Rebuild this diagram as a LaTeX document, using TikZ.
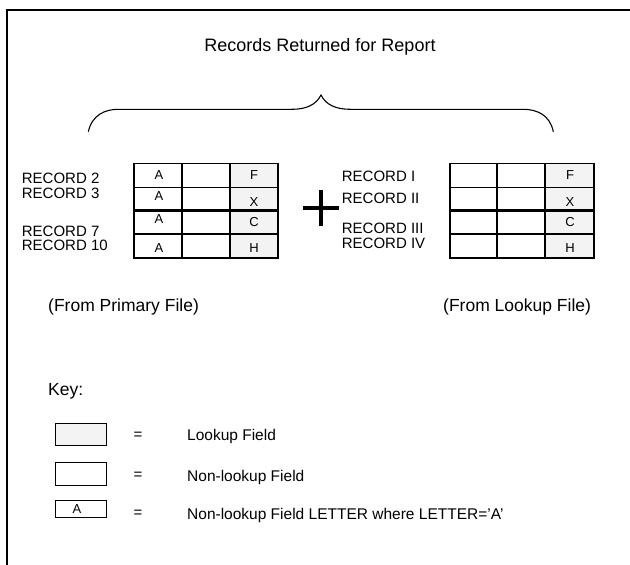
\documentclass[tikz,border=0pt]{standalone}
\usepackage{fontspec}
\setmainfont{Liberation Sans}
\definecolor{lookfill}{HTML}{F3F3F3}
\begin{document}
\begin{tikzpicture}[x=1pt,y=-1pt,
  rec/.style={anchor=base west, inner sep=0pt, font=\fontsize{15}{15}\selectfont},
  cell/.style={inner sep=0pt, font=\fontsize{13}{13}\selectfont},
  big/.style={anchor=base west, inner sep=0pt, font=\fontsize{17.5}{17.5}\selectfont},
  keytxt/.style={anchor=base west, inner sep=0pt, font=\fontsize{15.5}{15.5}\selectfont},
  tline/.style={draw=black, line width=1.1pt},
  thick/.style={draw=black, line width=2.6pt}]
\useasboundingbox (0,0) rectangle (630,565);
% frame
\draw[line width=2pt] (7,565) -- (7,10) -- (630,10);
% title
\node[anchor=base, inner sep=0pt, font=\fontsize{18}{18}\selectfont] (title) at (320,51.5) {Records Returned for Report};
% brace
\draw[line width=1.1pt] (88.3,131.7) .. controls (92,115) and (105,109.3) .. (118.3,109.3) -- (291.7,109.3)
  .. controls (306,109.3) and (316,105) .. (321,95)
  .. controls (326,105) and (336,109.3) .. (350.3,109.3) -- (523.3,109.3)
  .. controls (537,109.3) and (550,115) .. (553.3,131.7);
% primary table
\fill[lookfill] (230,163.5) rectangle (278,258);
\draw[tline] (134,163.5) rectangle (278,258);
\draw[tline] (182,163.5) -- (182,258) (230,163.5) -- (230,258);
\draw[tline] (134,187.5) -- (278,187.5) (134,234) -- (278,234);
\draw[thick] (134,210.5) -- (278,210.5);
% lookup table
\fill[lookfill] (545,163.5) rectangle (594,258);
\draw[tline] (450,163.5) rectangle (594,258);
\draw[tline] (497,163.5) -- (497,258) (545,163.5) -- (545,258);
\draw[tline] (450,187.5) -- (594,187.5) (450,234) -- (594,234);
\draw[thick] (450,210.5) -- (594,210.5);
% record labels left
\node[rec] (r2) at (21.7,183.4) {RECORD 2};
\node[rec] (r3) at (21.7,198) {RECORD 3};
\node[rec] (r7) at (21.7,236.5) {RECORD 7};
\node[rec] (r10) at (21.7,250.5) {RECORD 10};
% record labels right
\node[rec] (rI) at (341.7,181) {RECORD I};
\node[rec] (rII) at (341.7,203) {RECORD II};
\node[rec] (rIII) at (341.7,233) {RECORD III};
\node[rec] (rIV) at (341.7,248.5) {RECORD IV};
% cell letters primary
\node[cell] (a1) at (159,175) {A};
\node[cell] (a2) at (159,196) {A};
\node[cell] (a3) at (159,219) {A};
\node[cell] (a4) at (159,248) {A};
\node[cell] (f1) at (254,175) {F};
\node[cell] (x1) at (254,202) {X};
\node[cell] (c1) at (254,222.5) {C};
\node[cell] (h1) at (254,248) {H};
% cell letters lookup
\node[cell] (f2) at (570,175) {F};
\node[cell] (x2) at (570,202) {X};
\node[cell] (c2) at (570,222.5) {C};
\node[cell] (h2) at (570,248) {H};
% plus
\draw[line width=4pt] (303,208.3) -- (339,208.3);
\draw[line width=4pt] (320.7,190) -- (320.7,226);
% source labels
\node[big] (fromP) at (48,311) {(From Primary File)};
\node[big] (fromL) at (443,311) {(From Lookup File)};
% key
\node[big] (key) at (48,395.5) {Key:};
\draw[tline, line width=1pt, fill=lookfill] (55,423.3) rectangle (106.7,445);
\draw[tline, line width=1pt] (55,462.7) rectangle (106.7,485);
\draw[tline, line width=1pt] (55,500.7) rectangle (106.7,517.3);
\node[cell] (ka) at (77,509.5) {A};
\node[inner sep=0pt, font=\fontsize{15}{15}\selectfont] (e1) at (138,436) {=};
\node[inner sep=0pt, font=\fontsize{15}{15}\selectfont] (e2) at (138,476) {=};
\node[inner sep=0pt, font=\fontsize{15}{15}\selectfont] (e3) at (138,514) {=};
\node[keytxt] (k1) at (187,440.5) {Lookup Field};
\node[keytxt] (k2) at (187,481.5) {Non-lookup Field};
\node[keytxt] (k3) at (187,519) {Non-lookup Field LETTER where LETTER='A'};
\end{tikzpicture}
\end{document}
